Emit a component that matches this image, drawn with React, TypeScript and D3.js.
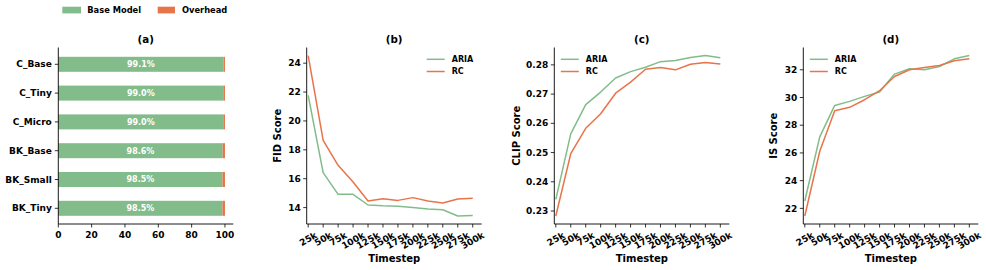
import React from "react";
import * as d3 from "d3";

const models = ["C_Base", "C_Tiny", "C_Micro", "BK_Base", "BK_Small", "BK_Tiny"];
const basePct = [99.1, 99.0, 99.0, 98.6, 98.5, 98.5];
const xTicksA = [0, 20, 40, 60, 80, 100];

const steps = [25, 50, 75, 100, 125, 150, 175, 200, 225, 250, 275, 300];
const fidAria = [21.77, 16.42, 14.92, 14.92, 14.18, 14.12, 14.1, 14.0, 13.9, 13.85, 13.42, 13.45];
const fidRc = [24.53, 18.65, 16.93, 15.77, 14.46, 14.62, 14.5, 14.69, 14.46, 14.32, 14.6, 14.64];
const clipAria = [0.234, 0.2564, 0.2664, 0.2707, 0.2755, 0.2777, 0.2792, 0.2811, 0.2815, 0.2825, 0.2832, 0.2824];
const clipRc = [0.2283, 0.2496, 0.2583, 0.2633, 0.2703, 0.2741, 0.2785, 0.2791, 0.2783, 0.2802, 0.2808, 0.2803];
const isAria = [22.53, 27.16, 29.43, 29.72, 30.08, 30.4, 31.69, 32.07, 32.0, 32.24, 32.79, 33.03];
const isRc = [21.45, 26.12, 29.05, 29.29, 29.84, 30.49, 31.52, 32.0, 32.17, 32.31, 32.65, 32.79];
const fidTicks = [14, 16, 18, 20, 22, 24];
const clipTicks = [0.23, 0.24, 0.25, 0.26, 0.27, 0.28];
const isTicks = [22, 24, 26, 28, 30, 32];

const GREEN = "#82bc8b";
const ORANGE = "#e8744a";
const FONT = "DejaVu Sans, sans-serif";
const TOP = 47.5;
const BOTTOM = 224;
const W = 175;

function charW(s: string) {
  let w = 0;
  for (const c of s) w += c === "k" ? 0.665 : 0.696;
  return w;
}

function LinePanel({ left, title, ylabel, ylabelX, aria, rc, ticks, fmt, legendLeft }: any) {
  const x = d3.scaleLinear().domain([22.5, 315]).range([left, left + W]);
  const all = aria.concat(rc);
  const [mn, mx] = d3.extent(all) as [number, number];
  const pad = (mx - mn) * 0.05;
  const y = d3.scaleLinear().domain([mn - pad, mx + pad]).range([BOTTOM, TOP]);
  const line = d3.line<number>().x((_, i) => x(steps[i])).y((v) => y(v));
  const lx0 = legendLeft ? left + 6.5 : left + 120;
  const fs = 9;
  return (
    <g fontFamily={FONT} fontWeight="bold">
      <text x={left + W / 2} y={43} textAnchor="middle" fontSize={10.3}>{title}</text>
      <line x1={left} x2={left} y1={TOP} y2={BOTTOM} stroke="#000" strokeWidth={0.9} />
      <line x1={left} x2={left + W} y1={BOTTOM} y2={BOTTOM} stroke="#000" strokeWidth={0.9} />
      {ticks.map((t: number) => (
        <g key={t}>
          <line x1={left - 3.5} x2={left} y1={y(t)} y2={y(t)} stroke="#000" strokeWidth={0.8} />
          <text x={left - 6} y={y(t)} dy="0.35em" textAnchor="end" fontSize={fs}>{fmt(t)}</text>
        </g>
      ))}
      {steps.map((s) => {
        const lab = `${s}k`;
        const w = charW(lab) * fs;
        const h = fs * 0.95;
        const cy = BOTTOM + 6.5 + (w * 0.5 + h * 0.866) / 2;
        return (
          <g key={s}>
            <line x1={x(s)} x2={x(s)} y1={BOTTOM} y2={BOTTOM + 3.5} stroke="#000" strokeWidth={0.8} />
            <text transform={`translate(${x(s)},${cy}) rotate(-30)`} dy="0.35em" textAnchor="middle" fontSize={fs}>{lab}</text>
          </g>
        );
      })}
      <text x={left + W / 2} y={262} textAnchor="middle" fontSize={10}>Timestep</text>
      <text transform={`translate(${ylabelX},${(TOP + BOTTOM) / 2}) rotate(-90)`} dy="0.35em" textAnchor="middle" fontSize={10}>{ylabel}</text>
      <path d={line(aria) || ""} fill="none" stroke={GREEN} strokeWidth={1.5} strokeLinejoin="round" />
      <path d={line(rc) || ""} fill="none" stroke={ORANGE} strokeWidth={1.5} strokeLinejoin="round" />
      <line x1={lx0} x2={lx0 + 18} y1={59.3} y2={59.3} stroke={GREEN} strokeWidth={1.5} />
      <line x1={lx0} x2={lx0 + 18} y1={71.5} y2={71.5} stroke={ORANGE} strokeWidth={1.5} />
      <text x={lx0 + 25} y={59.3} dy="0.35em" fontSize={8}>ARIA</text>
      <text x={lx0 + 25} y={71.5} dy="0.35em" fontSize={8}>RC</text>
    </g>
  );
}

function BarPanel() {
  const left = 58.3;
  const x = d3.scaleLinear().domain([0, 105]).range([left, left + W]);
  const y = d3.scalePoint<string>().domain(models).range([64.3, 208.3]);
  const bh = 15;
  return (
    <g fontFamily={FONT} fontWeight="bold">
      <rect x={62.3} y={6.7} width={18.7} height={6.7} fill={GREEN} />
      <text x={87.3} y={10} dy="0.35em" fontSize={8.3}>Base Model</text>
      <rect x={157.7} y={6.7} width={17.3} height={6.7} fill={ORANGE} />
      <text x={182} y={10} dy="0.35em" fontSize={8.3}>Overhead</text>
      <text x={left + W / 2} y={43} textAnchor="middle" fontSize={10.3}>(a)</text>
      {models.map((m, i) => {
        const yc = y(m) as number;
        return (
          <g key={m}>
            <rect x={x(0)} y={yc - bh / 2} width={x(basePct[i]) - x(0)} height={bh} fill={GREEN} />
            <rect x={x(basePct[i])} y={yc - bh / 2} width={x(100) - x(basePct[i])} height={bh} fill={ORANGE} />
            <text x={x(basePct[i] / 2)} y={yc} dy="0.35em" textAnchor="middle" fontSize={8} fill="#fff">{basePct[i].toFixed(1)}%</text>
            <line x1={left - 3.5} x2={left} y1={yc} y2={yc} stroke="#000" strokeWidth={0.8} />
            <text x={left - 6.5} y={yc} dy="0.35em" textAnchor="end" fontSize={9}>{m}</text>
          </g>
        );
      })}
      <line x1={left} x2={left} y1={TOP} y2={BOTTOM} stroke="#000" strokeWidth={0.9} />
      <line x1={left} x2={left + W} y1={BOTTOM} y2={BOTTOM} stroke="#000" strokeWidth={0.9} />
      {xTicksA.map((t) => (
        <g key={t}>
          <line x1={x(t)} x2={x(t)} y1={BOTTOM} y2={BOTTOM + 3.5} stroke="#000" strokeWidth={0.8} />
          <text x={x(t)} y={BOTTOM + 7} dy="0.75em" textAnchor="middle" fontSize={9}>{t}</text>
        </g>
      ))}
    </g>
  );
}

export default function App() {
  return (
    <svg width={986} height={270} style={{ position: "absolute", left: 0, top: 0, background: "#fff" }}>
      <BarPanel />
      <LinePanel left={306.7} title="(b)" ylabel="FID Score" ylabelX={277.7} aria={fidAria} rc={fidRc} ticks={fidTicks} fmt={(t: number) => `${t}`} legendLeft={false} />
      <LinePanel left={554.3} title="(c)" ylabel="CLIP Score" ylabelX={516.7} aria={clipAria} rc={clipRc} ticks={clipTicks} fmt={(t: number) => t.toFixed(2)} legendLeft={true} />
      <LinePanel left={803.3} title="(d)" ylabel="IS Score" ylabelX={773.3} aria={isAria} rc={isRc} ticks={isTicks} fmt={(t: number) => `${t}`} legendLeft={true} />
    </svg>
  );
}
